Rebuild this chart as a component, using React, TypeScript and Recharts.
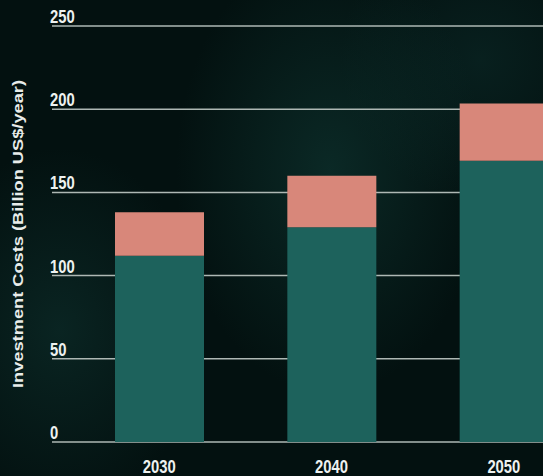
import React from 'react';
import { BarChart, Bar, XAxis, YAxis, CartesianGrid } from 'recharts';

const categories = ['2030', '2040', '2050'];
const baseValues = [112, 129, 169];
const topValues = [26, 31, 34.5];
const yTicks = [0, 50, 100, 150, 200, 250];

const data = categories.map((c, i) => ({ year: c, base: baseValues[i], top: topValues[i] }));

const FONT = "'Liberation Sans', Arial, sans-serif";

const YTick = (props: any) => {
  const { y, payload } = props;
  return (
    <text
      transform={`translate(50, ${y - 3}) scale(0.78, 1)`}
      textAnchor="start"
      fill="#eef2f0"
      fontSize={19}
      fontWeight="bold"
      fontFamily={FONT}
    >
      {payload.value}
    </text>
  );
};

const XTick = (props: any) => {
  const { x, y, payload } = props;
  return (
    <text
      transform={`translate(${x}, ${y + 23}) scale(0.78, 1)`}
      textAnchor="middle"
      fill="#eef2f0"
      fontSize={19}
      fontWeight="bold"
      fontFamily={FONT}
    >
      {payload.value}
    </text>
  );
};

const YTitle = (props: any) => {
  const vb = props.viewBox || { x: 0, y: 0, width: 0, height: 0 };
  const cx = 17;
  const cy = vb.y + vb.height / 2;
  return (
    <text
      x={cx}
      y={cy}
      transform={`rotate(-90, ${cx}, ${cy})`}
      textAnchor="middle"
      dominantBaseline="central"
      fill="#e8ecea"
      fontSize={15}
      fontWeight="bold"
      fontFamily={FONT}
      textLength={308}
      lengthAdjust="spacingAndGlyphs"
    >
      Investment Costs (Billion US$/year)
    </text>
  );
};

export default function App() {
  return (
    <div
      style={{
        position: 'fixed',
        left: 0,
        top: 0,
        width: 543,
        height: 476,
        overflow: 'hidden',
        background:
          'radial-gradient(ellipse 220px 320px at 330px 170px, rgba(20,70,64,0.45), rgba(0,0,0,0) 70%), radial-gradient(ellipse 200px 260px at 60px 330px, rgba(18,60,56,0.45), rgba(0,0,0,0) 70%), radial-gradient(ellipse 200px 200px at 480px 60px, rgba(14,50,48,0.45), rgba(0,0,0,0) 70%), #031110',
      }}
    >
      <BarChart
        width={592}
        height={476}
        data={data}
        margin={{ top: 26, right: 2, bottom: 4, left: 0 }}
        barSize={89}
      >
        <CartesianGrid horizontal={true} vertical={false} stroke="#aeb8b4" strokeWidth={1.5} />
        <XAxis
          dataKey="year"
          height={30}
          axisLine={false}
          tickLine={false}
          tick={<XTick />}
          padding={{ left: 21, right: 0 }}
        />
        <YAxis
          width={52}
          domain={[0, 250]}
          ticks={yTicks}
          axisLine={false}
          tickLine={false}
          tick={<YTick />}
          label={<YTitle />}
        />
        <Bar dataKey="base" stackId="a" fill="#1d625c" isAnimationActive={false} />
        <Bar dataKey="top" stackId="a" fill="#d8877a" isAnimationActive={false} />
      </BarChart>
    </div>
  );
}
